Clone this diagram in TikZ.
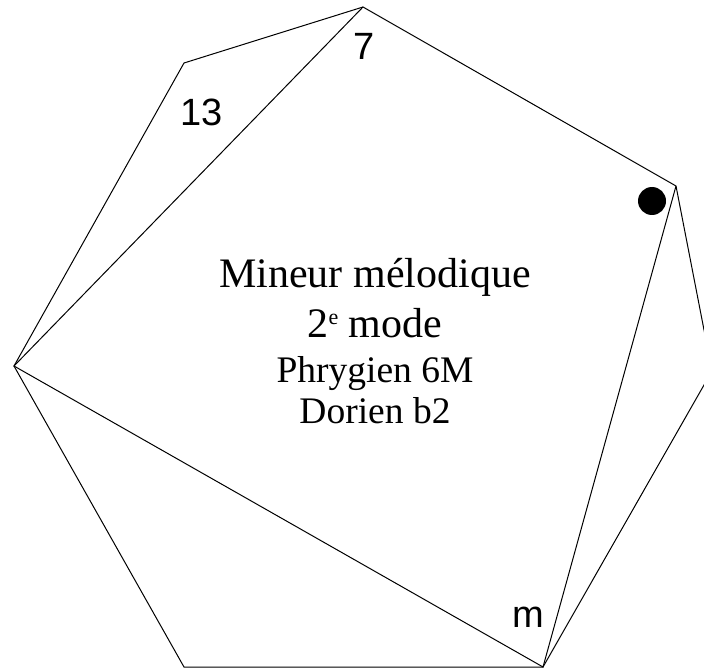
\documentclass[tikz,border=0pt]{standalone}
\usepackage{fontspec}
\setmainfont{Liberation Serif}
\newfontfamily\labelfont{Liberation Sans}
\newcommand\smalle{{\fontsize{22}{22}\selectfont\raisebox{13pt}{e}}}
\begin{document}
\begin{tikzpicture}[x=1pt,y=-1pt,line width=1pt,
  side/.style={draw=black,line join=miter},
  deg/.style={anchor=base,inner sep=0pt,font=\labelfont\fontsize{38}{38}\selectfont},
  title/.style={anchor=base,inner sep=0pt,font=\fontsize{42}{42}\selectfont},
  sub/.style={anchor=base,inner sep=0pt,font=\fontsize{37.5}{37.5}\selectfont}]
\useasboundingbox (0,0) rectangle (704,671);
\clip (0,0) rectangle (704,671);
% heptagone
\coordinate (vA) at (363,7);
\coordinate (vB) at (184,63);
\coordinate (vC) at (14,366);
\coordinate (vD) at (184,667);
\coordinate (vE) at (543,667);
\coordinate (vG) at (712,371);
\coordinate (vF) at (676,186);
\draw[side] (vA) -- (vB) -- (vC) -- (vD) -- (vE) -- (vG) -- (vF) -- cycle;
% accord
\draw[side] (vA) -- (vC) -- (vE) -- (vF);
\fill (652,201) circle (14);
% degres
\node[deg] (d7) at (364,60) {7};
\node[deg] (d13) at (202,126) {13};
\node[deg] (dm) at (528,627) {m};
% nom du mode
\node[title] (l1) at (375,287) {Mineur mélodique};
\node[title] (l2) at (375,337) {2\smalle\ mode};
\node[sub] (l3) at (375,382) {Phrygien 6M};
\node[sub] (l4) at (375,423) {Dorien b2};
\end{tikzpicture}
\end{document}
